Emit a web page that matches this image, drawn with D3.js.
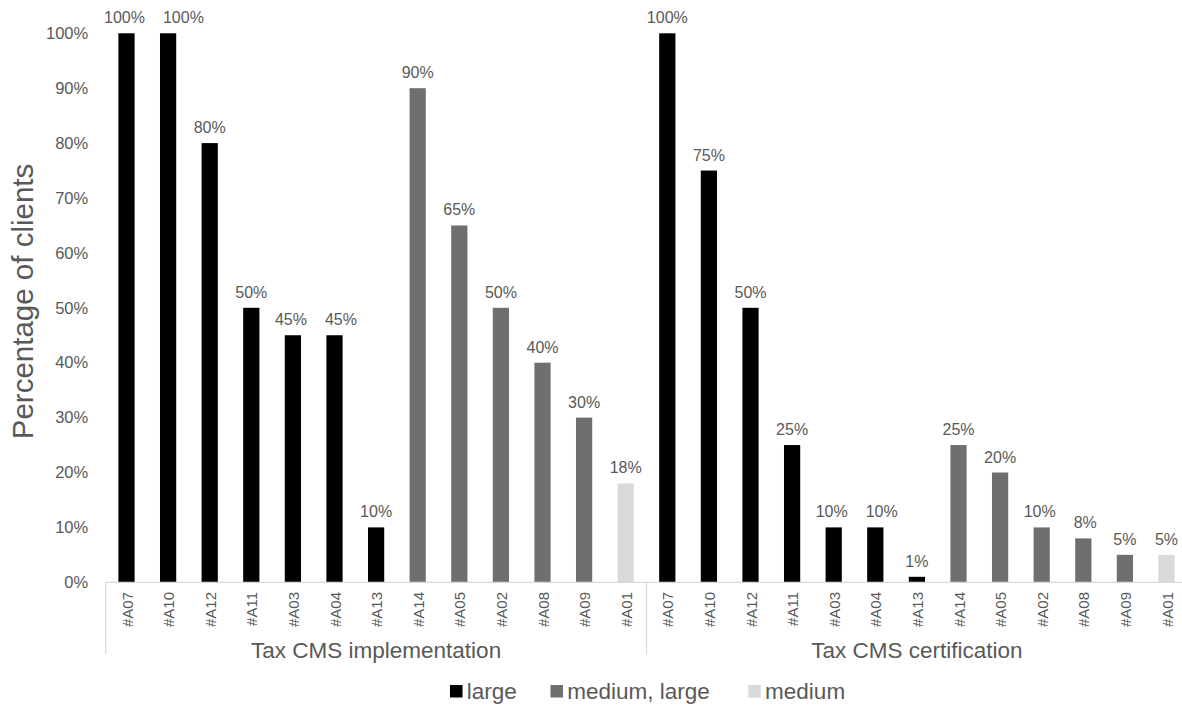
<!DOCTYPE html>
<html>
<head>
<meta charset="utf-8">
<script src="https://cdn.jsdelivr.net/npm/d3@7"></script>
<style>
  html, body { margin: 0; padding: 0; background: #fff; }
  svg { display: block; font-family: "Liberation Sans", Arial, sans-serif; }
</style>
</head>
<body>
<svg id="chart" width="1182" height="705"></svg>
<script>
// Client codes, in plotted order within each group
const clients = ["#A07", "#A10", "#A12", "#A11", "#A03", "#A04", "#A13", "#A14", "#A05", "#A02", "#A08", "#A09", "#A01"];
// Client size class for each code above
const sizes = ["large", "large", "large", "large", "large", "large", "large",
               "medium, large", "medium, large", "medium, large", "medium, large", "medium, large", "medium"];
const groups = ["Tax CMS implementation", "Tax CMS certification"];
// Percentage of clients per group
const implementation = [100, 100, 80, 50, 45, 45, 10, 90, 65, 50, 40, 30, 18];
const certification = [100, 75, 50, 25, 10, 10, 1, 25, 20, 10, 8, 5, 5];
const yTicks = [0, 10, 20, 30, 40, 50, 60, 70, 80, 90, 100];
const legendItems = ["large", "medium, large", "medium"];

const colour = d3.scaleOrdinal()
  .domain(legendItems)
  .range(["#000000", "#6f6f6f", "#d9d9d9"]);

const textCol = "#595959";
const lineCol = "#d9d9d9";

const rows = [];
[implementation, certification].forEach((vals, gi) => {
  vals.forEach((v, i) => rows.push({ key: gi + "|" + i, group: groups[gi], client: clients[i], size: sizes[i], value: v }));
});

const svg = d3.select("#chart");
const plotL = 105.7, plotR = 105.7 + 26 * 41.6, plotT = 33.3, plotB = 582.3;

const x = d3.scaleBand().domain(rows.map(d => d.key)).range([plotL, plotR]).paddingInner(0.61).paddingOuter(0.305);
const y = d3.scaleLinear().domain([0, 100]).range([plotB, plotT]);

// Y axis tick labels (no axis line, no gridlines)
const yAxis = svg.append("g")
  .attr("transform", `translate(${plotL},0)`)
  .call(d3.axisLeft(y).tickValues(yTicks).tickFormat(d => d + "%").tickSize(0).tickPadding(17.5));
yAxis.select(".domain").remove();
yAxis.selectAll("text").attr("fill", textCol).style("font-size", "16.5px").attr("font-family", null);

// Bars
svg.append("g").selectAll("rect").data(rows).join("rect")
  .attr("x", d => x(d.key))
  .attr("width", x.bandwidth())
  .attr("y", d => y(d.value))
  .attr("height", d => y(0) - y(d.value))
  .attr("fill", d => colour(d.size));

// Value labels, centred over each bar
const labels = svg.append("g").selectAll("text").data(rows).join("text")
  .attr("x", d => x(d.key) + x.bandwidth() / 2)
  .attr("y", d => y(d.value) - 10)
  .attr("text-anchor", "middle")
  .attr("fill", textCol)
  .style("font-size", "16px")
  .text(d => d.value + "%");

// Push apart neighbouring labels on the same level that would collide
const minGap = 18;
const nodes = labels.nodes();
for (let i = 1; i < nodes.length; i++) {
  const a = nodes[i - 1], b = nodes[i];
  if (Math.abs(+a.getAttribute("y") - +b.getAttribute("y")) > 12) continue;
  const ba = a.getBBox(), bb = b.getBBox();
  const overlap = ba.x + ba.width + minGap - bb.x;
  if (overlap > 0) {
    a.setAttribute("x", +a.getAttribute("x") - 2);
    b.setAttribute("x", +b.getAttribute("x") + overlap - 2);
  }
}

// Baseline
svg.append("line")
  .attr("x1", plotL).attr("x2", plotR)
  .attr("y1", y(0)).attr("y2", y(0))
  .attr("stroke", lineCol).attr("stroke-width", 1.3);

// Group separators
const gWidth = (plotR - plotL) / 2;
[0, 1, 2].forEach(i => {
  svg.append("line")
    .attr("x1", plotL + i * gWidth).attr("x2", plotL + i * gWidth)
    .attr("y1", y(0)).attr("y2", 654)
    .attr("stroke", lineCol).attr("stroke-width", 1.3);
});

// Category labels (rotated)
svg.append("g").selectAll("text").data(rows).join("text")
  .attr("transform", d => `translate(${x(d.key) + x.bandwidth() / 2 + 6},592) rotate(-90)`)
  .attr("text-anchor", "end")
  .attr("fill", textCol)
  .style("font-size", "15px")
  .text(d => d.client);

// Group labels
groups.forEach((g, i) => {
  svg.append("text")
    .attr("x", plotL + gWidth * i + gWidth / 2)
    .attr("y", 658)
    .attr("text-anchor", "middle")
    .attr("fill", textCol)
    .style("font-size", "22.5px")
    .text(g);
});

// Y axis title
svg.append("text")
  .attr("transform", `translate(33,301.5) rotate(-90)`)
  .attr("text-anchor", "middle")
  .attr("fill", textCol)
  .style("font-size", "29.5px")
  .text("Percentage of clients");

// Legend
const legendX = [450, 550.5, 748.3];
const legend = svg.append("g").selectAll("g").data(legendItems).join("g")
  .attr("transform", (d, i) => `translate(${legendX[i]},685)`);
legend.append("rect").attr("width", 12.5).attr("height", 12.5).attr("fill", d => colour(d));
legend.append("text")
  .attr("x", 16.8).attr("y", 13.5)
  .attr("fill", textCol)
  .style("font-size", "22.5px")
  .text(d => d);
</script>
</body>
</html>
